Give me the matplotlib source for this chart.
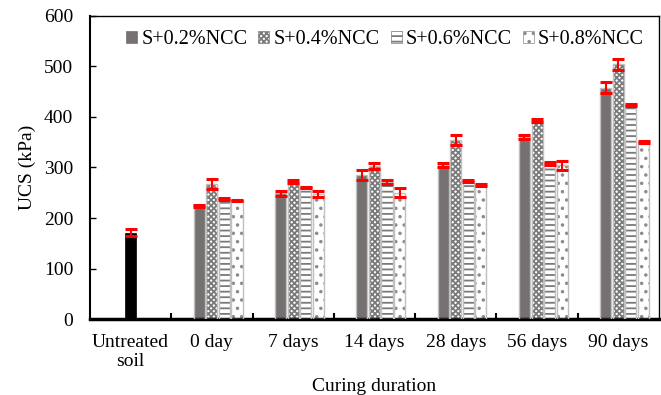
import matplotlib
matplotlib.use("Agg")
import matplotlib.pyplot as plt
import numpy as np
from matplotlib.patches import Patch

plt.rcParams['font.family'] = ['Liberation Serif', 'DejaVu Serif']
plt.rcParams['hatch.linewidth'] = 1.3

categories = ["Untreated\nsoil", "0 day", "7 days", "14 days", "28 days", "56 days", "90 days"]
series_names = ["S+0.2%NCC", "S+0.4%NCC", "S+0.6%NCC", "S+0.8%NCC"]

untreated_value = 171
untreated_err = 6.5

s02 = [224, 249, 286, 305, 360, 458]
s04 = [267, 272, 303, 354, 393, 504]
s06 = [238, 260, 272, 273, 308, 423]
s08 = [235, 248, 250, 265, 304, 351]

e02 = [1.5, 5, 10, 4, 4, 11]
e04 = [10, 3, 5, 10, 3, 11]
e06 = [1.5, 1.5, 4, 1.5, 2.5, 2]
e08 = [1.5, 6, 9, 1.5, 9, 1.5]

values = [s02, s04, s06, s08]
errors = [e02, e04, e06, e08]
facecolors = ["#767171", "white", "white", "white"]
hatches = [None, "xxxxxx", "---", ".."]
hatchcolors = ["#767171", "#7a7a7a", "#7a7a7a", "#8c8c8c"]

fig = plt.figure(figsize=(6.61, 3.95), dpi=100)
ax = fig.add_axes([0.136, 0.1924, 0.861, 0.7671])

slot = 0.1546
width = 0.136
xc = np.arange(1, len(categories))

# untreated soil
ax.bar(0, untreated_value, width=width, color="black", edgecolor="black", linewidth=0.5, zorder=2)
ax.errorbar(0, untreated_value, yerr=untreated_err, fmt="none", ecolor="red",
            elinewidth=1.5, capsize=4.5, capthick=2.2, zorder=4)

for k in range(4):
    x = xc + (k - 1) * slot
    ax.bar(x, values[k], width=width, color=facecolors[k], edgecolor=hatchcolors[k],
           hatch=hatches[k], linewidth=0, zorder=2)
    ax.bar(x, values[k], width=width, facecolor="none", edgecolor="#c0c0c0",
           linewidth=1.0, zorder=3)
    ax.errorbar(x, values[k], yerr=errors[k], fmt="none", ecolor="red",
                elinewidth=1.5, capsize=4.5, capthick=2.2, zorder=4)

leg_handles = [Patch(facecolor=facecolors[k], edgecolor=hatchcolors[k], hatch=hatches[k],
                     linewidth=0.5) for k in range(4)]
ax.legend(leg_handles, series_names, loc="upper right", bbox_to_anchor=(0.995, 0.993),
          ncol=4, frameon=False, fontsize=14.5, handlelength=0.55, handleheight=0.55,
          handletextpad=0.2, columnspacing=0.55, borderaxespad=0.2)

ax.set_xlim(-0.5, len(categories) - 0.5)
ax.set_ylim(0, 600)
ax.set_yticks(np.arange(0, 601, 100))
ax.set_xticks(np.arange(len(categories)))
ax.set_xticklabels(categories, fontsize=14, linespacing=1.1)
ax.set_xticks(np.arange(0.5, len(categories) - 0.5, 1), minor=True)
ax.tick_params(axis="x", which="major", length=0, pad=11)
ax.tick_params(axis="x", which="minor", direction="in", length=4, width=1.5)
ax.tick_params(axis="y", direction="in", length=4, width=1, labelsize=14, pad=12)

ax.set_ylabel("UCS (kPa)", fontsize=14, labelpad=6)
ax.set_xlabel("Curing duration", fontsize=14, labelpad=6)

ax.spines["bottom"].set_linewidth(2.5)
ax.spines["left"].set_linewidth(1.5)
ax.spines["top"].set_linewidth(1.0)
ax.spines["right"].set_linewidth(1.0)

fig.savefig("out.png", dpi=100)
